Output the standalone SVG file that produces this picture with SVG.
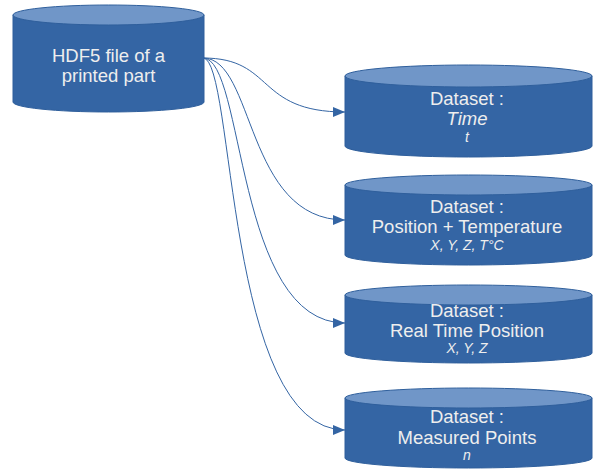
<svg xmlns="http://www.w3.org/2000/svg" width="593" height="469" viewBox="0 0 593 469">
<defs>
<style>
.body{fill:#3465a4;stroke:#2f5f9c;stroke-width:1}
.cap{fill:#7096c8;stroke:#2f5f9c;stroke-width:1}
.t{font-family:"Liberation Sans",Arial,sans-serif;fill:#eeeeee;text-anchor:middle;font-size:18.5px}
.s{font-size:14px;font-style:italic}
.i{font-style:italic}
.c{fill:none;stroke:#3465a4;stroke-width:1}
</style>
<marker id="ah" markerWidth="12" markerHeight="10" refX="12" refY="5" orient="auto" markerUnits="userSpaceOnUse">
<path d="M0,0 L12,5 L0,10 Z" fill="#3465a4"/>
</marker>
</defs>
<rect width="593" height="469" fill="#ffffff"/>
<g id="connectors">
<path class="c" marker-end="url(#ah)" d="M203,58 C275,58 255,112 345,112"/>
<path class="c" marker-end="url(#ah)" d="M203,58 C255,58 245,220 345,220"/>
<path class="c" marker-end="url(#ah)" d="M203,58 C245,58 235,323 345,323"/>
<path class="c" marker-end="url(#ah)" d="M203,58 C235,58 225,430 345,430"/>
</g>
<g id="hdf5">
<path class="body" d="M13,15 L13,102 A95.5,10 0 0 0 204,102 L204,15 Z"/>
<ellipse class="cap" cx="108.5" cy="15" rx="95.5" ry="10"/>
<text class="t" x="108.5" y="62">HDF5 file of a</text>
<text class="t" x="108.5" y="82">printed part</text>
</g>
<g id="ds-time">
<path class="body" d="M345,76 L345,146 A123.5,11 0 0 0 592,146 L592,76 Z"/>
<ellipse class="cap" cx="468.5" cy="76" rx="123.5" ry="11"/>
<text class="t" x="467" y="105">Dataset :</text>
<text class="t i" x="467" y="125">Time</text>
<text class="t s" x="467" y="142">t</text>
</g>
<g id="ds-postemp">
<path class="body" d="M345,185 L345,255 A123.5,10 0 0 0 592,255 L592,185 Z"/>
<ellipse class="cap" cx="468.5" cy="185" rx="123.5" ry="10"/>
<text class="t" x="467" y="213">Dataset :</text>
<text class="t" x="467" y="233">Position + Temperature</text>
<text class="t s" x="467" y="250">X, Y, Z, T°C</text>
</g>
<g id="ds-realtime">
<path class="body" d="M345,295 L345,353 A123.5,10 0 0 0 592,353 L592,295 Z"/>
<ellipse class="cap" cx="468.5" cy="295" rx="123.5" ry="10"/>
<text class="t" x="467" y="317">Dataset :</text>
<text class="t" x="467" y="337">Real Time Position</text>
<text class="t s" x="467" y="353">X, Y, Z</text>
</g>
<g id="ds-measured">
<path class="body" d="M345,398 L345,458 A123.5,10 0 0 0 592,458 L592,398 Z"/>
<ellipse class="cap" cx="468.5" cy="398" rx="123.5" ry="10"/>
<text class="t" x="467" y="423">Dataset :</text>
<text class="t" x="467" y="444">Measured Points</text>
<text class="t s" x="467" y="460">n</text>
</g>
</svg>
